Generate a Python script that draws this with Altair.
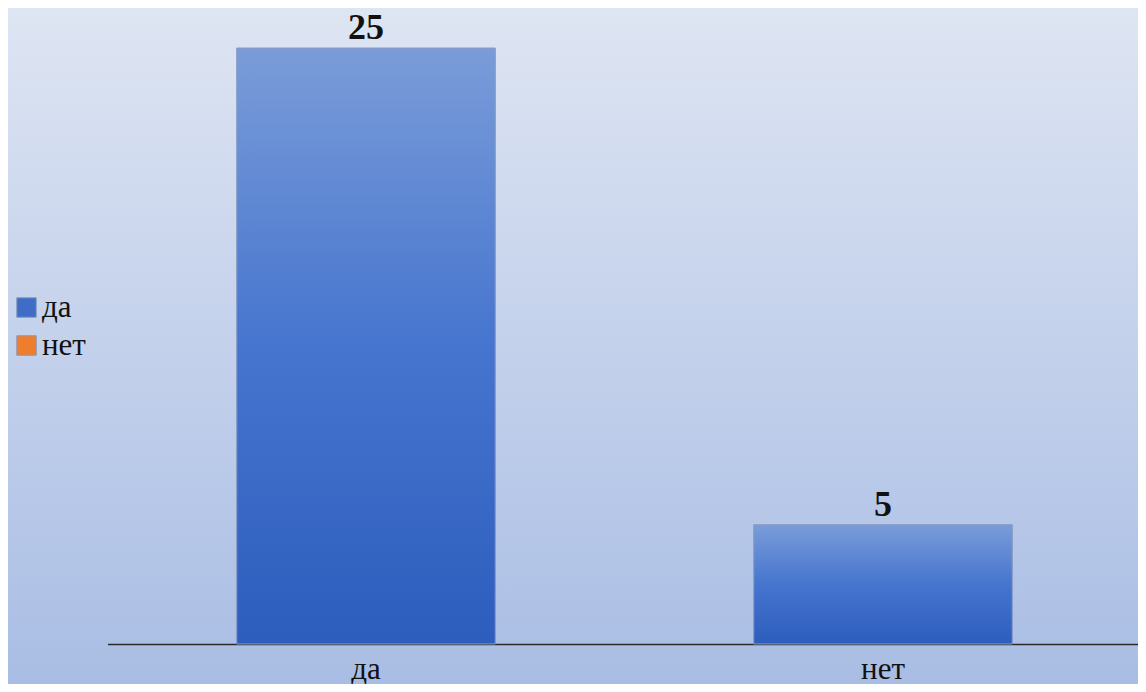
import altair as alt
import pandas as pd

categories = ["да", "нет"]
values = [25, 5]
series = ["да", "да"]
legend_labels = ["да", "нет"]
legend_colors = ["#3f6cc6", "#ee7d2e"]

df = pd.DataFrame({"category": categories, "value": values, "series": series})

SERIF = "Liberation Serif, DejaVu Serif, serif"

bar_gradient = {
    "gradient": "linear",
    "x1": 0, "y1": 0, "x2": 0, "y2": 1,
    "stops": [
        {"offset": 0, "color": "#7a9cd8"},
        {"offset": 0.5, "color": "#4675cf"},
        {"offset": 1, "color": "#2d5dbd"},
    ],
}
bg_expr = (
    "{gradient: 'linear', x1: 0, y1: 0, x2: 0, y2: 1, "
    "stops: [{offset: 0, color: '#dee5f3'}, {offset: 1, color: '#a9bde4'}]}"
)

xscale = alt.Scale(domain=categories, range=[99.5, 1133.5], paddingInner=0.5, paddingOuter=0.25)
yscale = alt.Scale(domain=[0, 25], range=[636, 40])

x = alt.X(
    "category:N",
    sort=categories,
    scale=xscale,
    axis=alt.Axis(
        title=None, labelAngle=0, ticks=False, grid=False, offset=-40,
        domainColor="#2b2b2b", domainWidth=1.5,
        labelFont=SERIF, labelFontSize=31, labelColor="#111111",
        labelBaseline="alphabetic", labelPadding=34,
    ),
)
y = alt.Y("value:Q", scale=yscale, axis=None)

base = alt.Chart(df)

legend_bar = base.mark_bar().encode(
    x=x,
    y=y,
    color=alt.Color(
        "series:N",
        scale=alt.Scale(domain=legend_labels, range=legend_colors),
        legend=alt.Legend(
            orient="none", legendX=3, legendY=284, title=None,
            symbolType="square", symbolSize=380,
            symbolStrokeColor="#8a9ab8", symbolStrokeWidth=1,
            labelFont=SERIF, labelFontSize=31, labelColor="#111111",
            rowPadding=6, labelOffset=0,
        ),
    ),
)

grad_bar = base.mark_bar(color=bar_gradient, stroke="#8c9cc0", strokeWidth=1).encode(x=x, y=y)

labels = base.mark_text(
    font=SERIF, fontSize=36, fontWeight="bold",
    baseline="alphabetic", dy=-9, color="#111111",
).encode(x=x, y=y, text="value:Q")

chart = (
    alt.layer(legend_bar, grad_bar, labels)
    .properties(width=1130, height=676, padding=0, autosize=alt.AutoSizeParams(type="none"))
    .configure_view(stroke=None, fill={"expr": bg_expr})
)

chart.save("out.html", embed_options={"renderer": "svg", "actions": False})
